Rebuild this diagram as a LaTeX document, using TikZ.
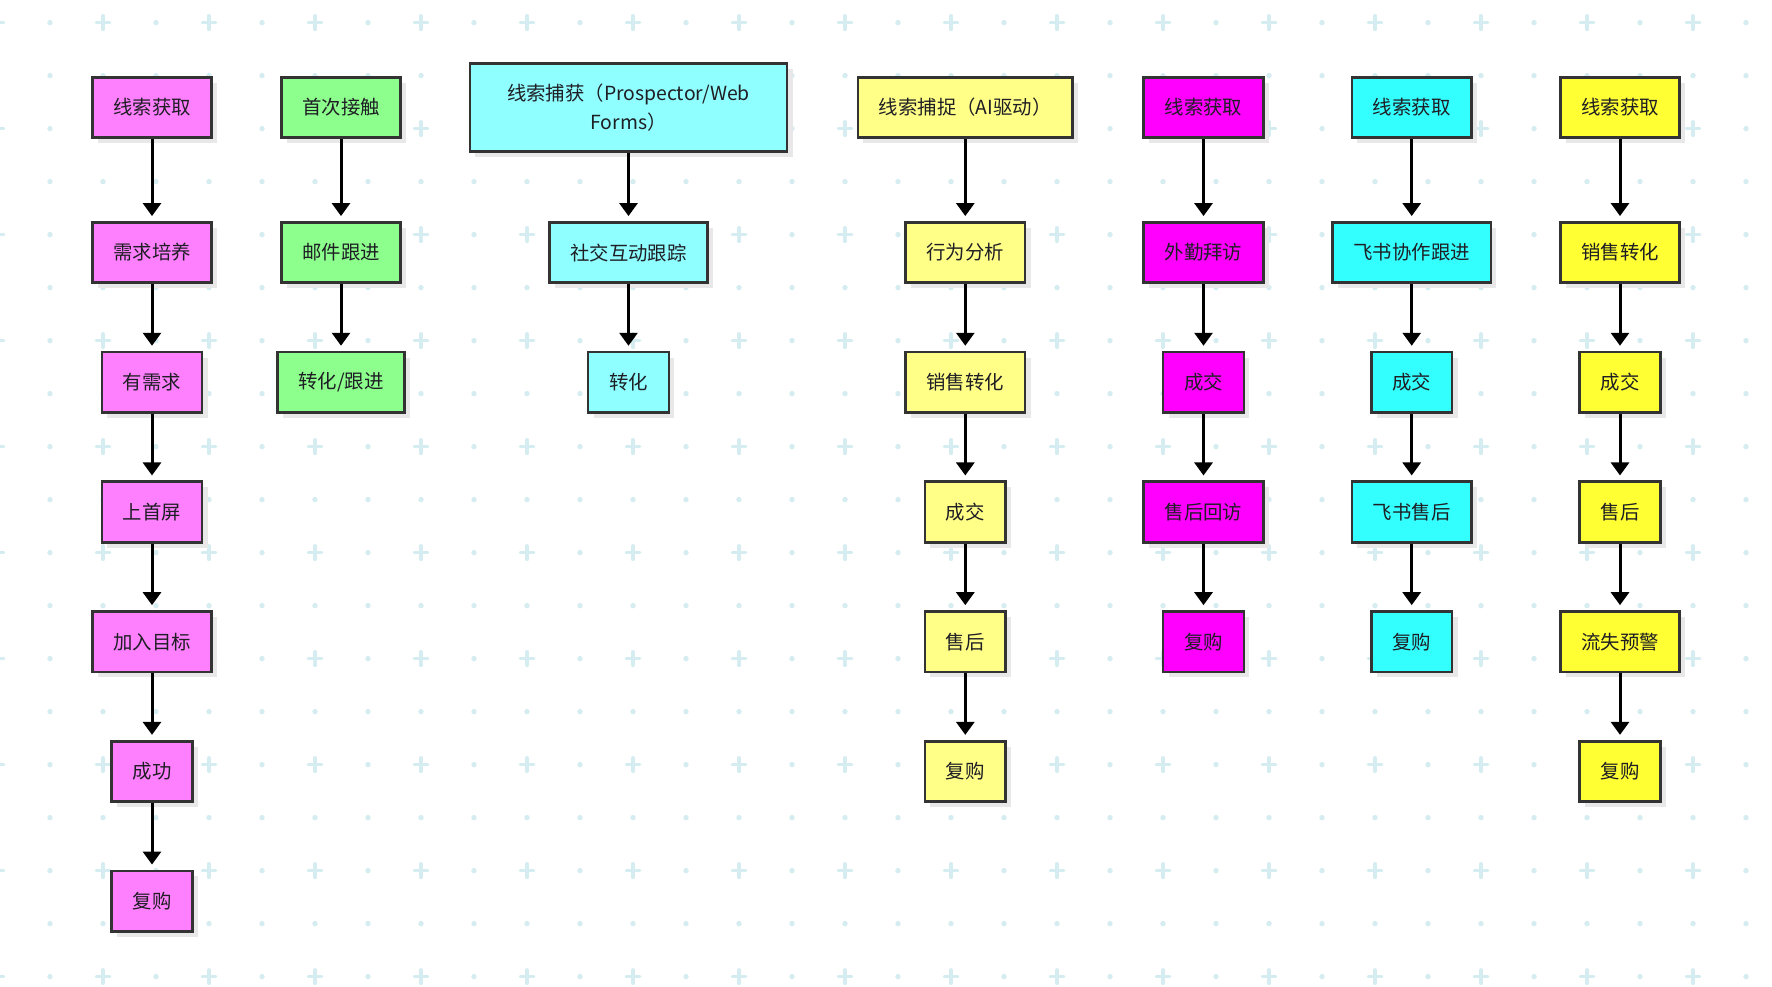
\documentclass[tikz,border=0pt]{standalone}
\usepackage{fontspec}
\setmainfont{Noto Sans CJK SC}
\usetikzlibrary{arrows.meta,positioning,shadows}

\definecolor{dotblue}{RGB}{213,236,240}
\definecolor{edge}{RGB}{51,51,51}
\definecolor{ink}{RGB}{30,30,36}
\definecolor{pinkA}{RGB}{255,128,255}
\definecolor{greenB}{RGB}{140,255,140}
\definecolor{cyanC}{RGB}{144,255,255}
\definecolor{yellowD}{RGB}{255,255,136}
\definecolor{magentaE}{RGB}{255,0,255}
\definecolor{cyanF}{RGB}{51,255,255}
\definecolor{yellowG}{RGB}{255,255,51}

\begin{document}
\begin{tikzpicture}[
  x=0.5pt, y=-0.5pt,
  node distance=33.3pt,
  box/.style={rectangle,draw=edge,line width=1.35pt,text=ink,
    font=\fontsize{9.7}{14.5}\selectfont,align=center,
    minimum height=30.2pt,inner xsep=10.5pt,
    drop shadow={shadow xshift=2.75pt,shadow yshift=-2.75pt,fill=black!9,opacity=1}},
  arrow/.style={-{Triangle[length=6.5pt,width=9pt]},line width=1.5pt,shorten >=2.5pt}
]
\fill[white] (0,0) rectangle (1772,986);
\useasboundingbox (0,0) rectangle (1772,986);
% background grid: crosses where both indices are even, dots elsewhere
\foreach \i in {0,...,33}
  \foreach \j in {0,...,18}{
    \pgfmathtruncatemacro{\odd}{mod(\i,2)+mod(\j,2)}
    \ifnum\odd=0
      \draw[dotblue,line width=1.8pt,line cap=round]
        (-3+53*\i-6.7,22.6+53*\j) -- ++(13.4,0)
        (-3+53*\i,22.6+53*\j-6.7) -- ++(0,13.4);
    \else
      \fill[dotblue] (-3+53*\i,22.6+53*\j) circle (1.35pt);
    \fi
  }

\node[box,fill=pinkA] (lead1) at (152,107.5) {线索获取};
\node[box,fill=pinkA,below=41pt of lead1] (nurture1) {需求培养};
\node[box,fill=pinkA,below=of nurture1] (need1) {有需求};
\node[box,fill=pinkA,below=of need1] (screen1) {上首屏};
\node[box,fill=pinkA,below=of screen1] (target1) {加入目标};
\node[box,fill=pinkA,below=of target1] (win1) {成功};
\node[box,fill=pinkA,below=of win1] (rebuy1) {复购};

\node[box,fill=greenB] (touch2) at (341,107.5) {首次接触};
\node[box,fill=greenB,below=41pt of touch2] (mail2) {邮件跟进};
\node[box,fill=greenB,below=of mail2] (conv2) {转化/跟进};

\node[box,fill=cyanC,minimum width=158.6pt,minimum height=44.2pt] (capture3) at (628.5,107.5)
  {线索捕获（Prospector/Web\\Forms）};
\node[box,fill=cyanC,below=34pt of capture3] (social3) {社交互动跟踪};
\node[box,fill=cyanC,below=of social3] (conv3) {转化};

\node[box,fill=yellowD] (capture4) at (965.3,107.5) {线索捕捉（AI驱动）};
\node[box,fill=yellowD,below=41pt of capture4] (behav4) {行为分析};
\node[box,fill=yellowD,below=of behav4] (sale4) {销售转化};
\node[box,fill=yellowD,below=of sale4] (deal4) {成交};
\node[box,fill=yellowD,below=of deal4] (after4) {售后};
\node[box,fill=yellowD,below=of after4] (rebuy4) {复购};

\node[box,fill=magentaE] (lead5) at (1203.5,107.5) {线索获取};
\node[box,fill=magentaE,below=41pt of lead5] (visit5) {外勤拜访};
\node[box,fill=magentaE,below=of visit5] (deal5) {成交};
\node[box,fill=magentaE,below=of deal5] (revisit5) {售后回访};
\node[box,fill=magentaE,below=of revisit5] (rebuy5) {复购};

\node[box,fill=cyanF] (lead6) at (1411.7,107.5) {线索获取};
\node[box,fill=cyanF,below=41pt of lead6] (feishu6) {飞书协作跟进};
\node[box,fill=cyanF,below=of feishu6] (deal6) {成交};
\node[box,fill=cyanF,below=of deal6] (fsafter6) {飞书售后};
\node[box,fill=cyanF,below=of fsafter6] (rebuy6) {复购};

\node[box,fill=yellowG] (lead7) at (1620,107.5) {线索获取};
\node[box,fill=yellowG,below=41pt of lead7] (sale7) {销售转化};
\node[box,fill=yellowG,below=of sale7] (deal7) {成交};
\node[box,fill=yellowG,below=of deal7] (after7) {售后};
\node[box,fill=yellowG,below=of after7] (churn7) {流失预警};
\node[box,fill=yellowG,below=of churn7] (rebuy7) {复购};

\draw[arrow] (lead1) -- (nurture1);
\draw[arrow] (nurture1) -- (need1);
\draw[arrow] (need1) -- (screen1);
\draw[arrow] (screen1) -- (target1);
\draw[arrow] (target1) -- (win1);
\draw[arrow] (win1) -- (rebuy1);

\draw[arrow] (touch2) -- (mail2);
\draw[arrow] (mail2) -- (conv2);

\draw[arrow] (capture3) -- (social3);
\draw[arrow] (social3) -- (conv3);

\draw[arrow] (capture4) -- (behav4);
\draw[arrow] (behav4) -- (sale4);
\draw[arrow] (sale4) -- (deal4);
\draw[arrow] (deal4) -- (after4);
\draw[arrow] (after4) -- (rebuy4);

\draw[arrow] (lead5) -- (visit5);
\draw[arrow] (visit5) -- (deal5);
\draw[arrow] (deal5) -- (revisit5);
\draw[arrow] (revisit5) -- (rebuy5);

\draw[arrow] (lead6) -- (feishu6);
\draw[arrow] (feishu6) -- (deal6);
\draw[arrow] (deal6) -- (fsafter6);
\draw[arrow] (fsafter6) -- (rebuy6);

\draw[arrow] (lead7) -- (sale7);
\draw[arrow] (sale7) -- (deal7);
\draw[arrow] (deal7) -- (after7);
\draw[arrow] (after7) -- (churn7);
\draw[arrow] (churn7) -- (rebuy7);
\end{tikzpicture}
\end{document}
